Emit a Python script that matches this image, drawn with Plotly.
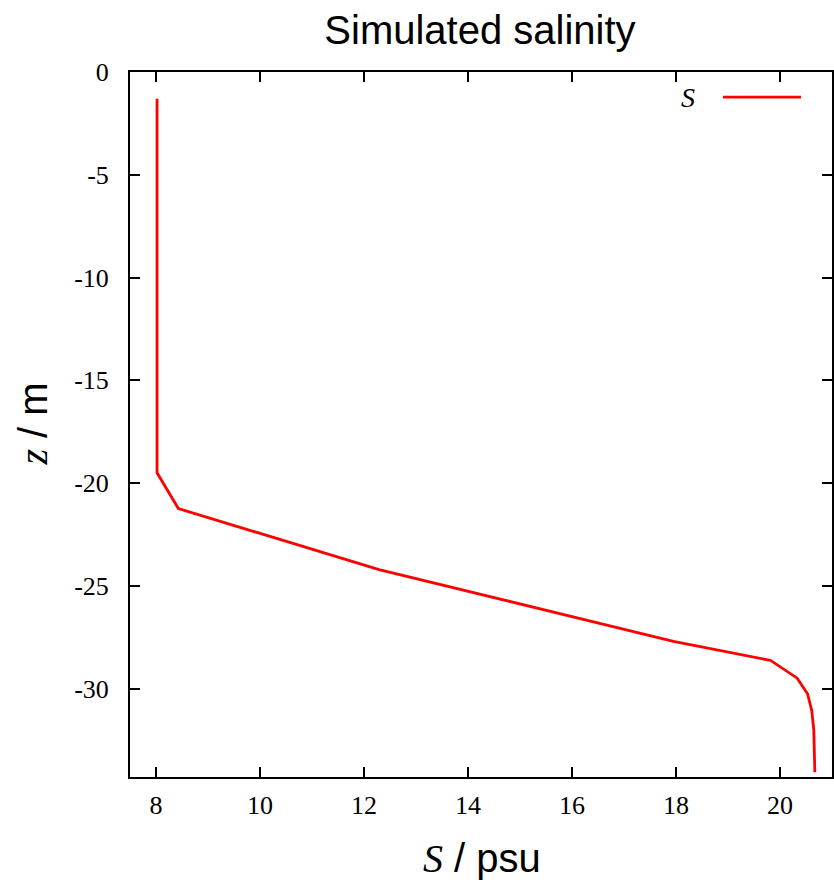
import plotly.graph_objects as go

# Salinity profile
salinity = [8.02, 8.02, 8.43, 12.29, 17.95, 19.82, 20.33, 20.53, 20.61, 20.65, 20.67]
depth = [-1.3, -19.5, -21.24, -24.21, -27.7, -28.63, -29.49, -30.25, -31.06, -32.0, -34.07]

x_ticks = [8, 10, 12, 14, 16, 18, 20]
y_ticks = [0, -5, -10, -15, -20, -25, -30]

serif = "Liberation Serif"
sans = "Liberation Sans"

fig = go.Figure()
fig.add_trace(go.Scatter(x=salinity, y=depth, mode="lines",
                         line=dict(color="#ff0000", width=2.8),
                         name="S", showlegend=False))

axis_common = dict(showline=True, linecolor="black", linewidth=2, mirror="ticks",
                   ticks="inside", ticklen=10, tickwidth=1.6, tickcolor="black",
                   showgrid=False, zeroline=False, automargin=False,
                   tickfont=dict(family=serif, size=26, color="black"))

fig.update_xaxes(range=[7.5, 21], tickvals=x_ticks, ticktext=[str(v) for v in x_ticks],
                 ticklabelstandoff=4, **axis_common)
fig.update_yaxes(range=[-34.3, 0], tickvals=y_ticks, ticktext=[str(v) for v in y_ticks],
                 ticklabelstandoff=14, **axis_common)

# axis titles
fig.add_annotation(xref="paper", yref="paper", x=0.5014, y=-0.115, xanchor="center", yanchor="middle",
                   text='<span style="font-family:Liberation Serif;font-style:italic">S</span> / psu',
                   showarrow=False, font=dict(family=sans, size=40, color="black"))
fig.add_annotation(xref="paper", yref="paper", x=-0.138, y=0.5, xanchor="center", yanchor="middle",
                   textangle=-90,
                   text='<span style="font-family:Liberation Serif;font-style:italic">z</span> / m',
                   showarrow=False, font=dict(family=sans, size=40, color="black"))

# legend entry drawn gnuplot-style (label left of sample)
fig.add_annotation(xref="paper", yref="paper", x=0.8077, y=0.9645, xanchor="right", yanchor="middle",
                   text="<i>S</i>", showarrow=False, font=dict(family=serif, size=28, color="black"))
fig.add_shape(type="line", xref="paper", yref="paper", x0=0.8447, x1=0.9558, y0=0.9645, y1=0.9645,
              line=dict(color="#ff0000", width=2.8))

fig.update_layout(
    width=834, height=885,
    margin=dict(l=130, r=2, t=72, b=108),
    paper_bgcolor="white", plot_bgcolor="white",
    title=dict(text="Simulated salinity", x=0.5755, xanchor="center", y=0.966, yanchor="middle",
               font=dict(family=sans, size=40, color="black")),
    showlegend=False,
)

fig.write_html("out.html", config={"displayModeBar": False},
               post_script="document.body.style.margin='0';document.body.style.overflow='hidden';")
